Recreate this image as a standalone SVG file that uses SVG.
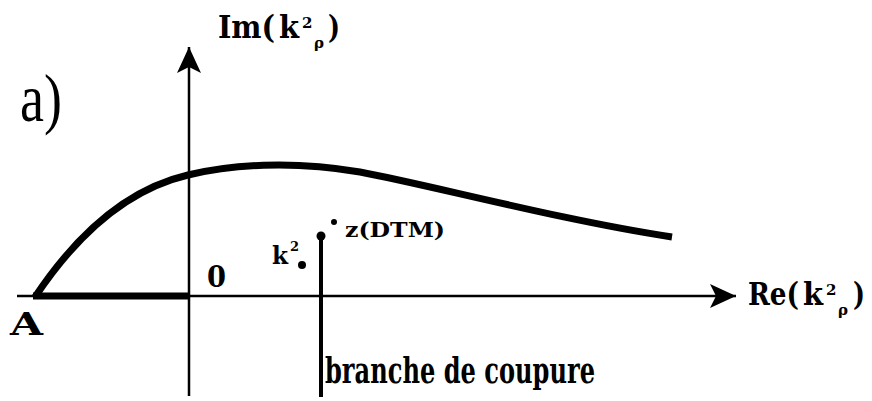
<svg xmlns="http://www.w3.org/2000/svg" width="872" height="401" viewBox="0 0 872 401">
<style>
.ax{stroke:#000;stroke-width:2.5;fill:none}
.thick{stroke:#000;stroke-width:7;fill:none;stroke-linecap:butt}
.b{font-family:"DejaVu Serif","Liberation Serif",serif;font-weight:bold;fill:#000}
.r{font-family:"Liberation Serif","Times New Roman",serif;fill:#000}
</style>
<defs>
<marker id="arr" viewBox="0 0 26 24" refX="26" refY="12" markerWidth="26" markerHeight="24" markerUnits="userSpaceOnUse" orient="auto">
<path d="M0,0 L26,12 L0,24 L6,12 Z" fill="#000"/>
</marker>
</defs>
<rect width="872" height="401" fill="#fff"/>
<g id="connectors">
<line class="ax" x1="189" y1="396" x2="189" y2="47" marker-end="url(#arr)"/>
<line class="ax" x1="17" y1="296" x2="736" y2="296" marker-end="url(#arr)"/>
<line class="thick" x1="33" y1="296" x2="189" y2="296"/>
<path class="thick" d="M35,297 C65,252 115,192 188,175 C230,165 290,160 360,172 C430,185 560,220 672,237"/>
<line x1="321" y1="235" x2="321" y2="397" stroke="#000" stroke-width="4"/>
<circle cx="321" cy="236" r="4.5" fill="#000"/>
</g>
<g id="labels">
<text class="r" x="0" y="0" font-size="54" transform="translate(20,121) scale(1,1.25)">a)</text>
<g id="im-label">
<text class="b" x="218" y="38" font-size="31" textLength="57" lengthAdjust="spacingAndGlyphs">Im(</text>
<text class="b" x="279" y="38" font-size="31" textLength="20" lengthAdjust="spacingAndGlyphs">k</text>
<text class="b" x="302" y="28" font-size="15">2</text>
<text class="b" x="314" y="48" font-size="15">ρ</text>
<text class="b" x="328" y="38" font-size="31" textLength="12" lengthAdjust="spacingAndGlyphs">)</text>
</g>
<g id="re-label">
<text class="b" x="748" y="305" font-size="31" textLength="51" lengthAdjust="spacingAndGlyphs">Re(</text>
<text class="b" x="803" y="305" font-size="31" textLength="20" lengthAdjust="spacingAndGlyphs">k</text>
<text class="b" x="826" y="295" font-size="15">2</text>
<text class="b" x="838" y="315" font-size="15">ρ</text>
<text class="b" x="853" y="305" font-size="31" textLength="12" lengthAdjust="spacingAndGlyphs">)</text>
</g>
<text class="b" x="207" y="287" font-size="30" textLength="19" lengthAdjust="spacingAndGlyphs">0</text>
<text class="b" x="10" y="335" font-size="31" textLength="33" lengthAdjust="spacingAndGlyphs">A</text>
<g id="k2">
<text class="b" x="272" y="264" font-size="25" textLength="16" lengthAdjust="spacingAndGlyphs">k</text>
<text class="b" x="290" y="251" font-size="13">2</text>
<circle cx="302" cy="265" r="4" fill="#000"/>
</g>
<g id="zdtm">
<circle cx="334" cy="222" r="3" fill="#000"/>
<text class="b" x="345" y="237" font-size="21" textLength="100" lengthAdjust="spacingAndGlyphs">z(DTM)</text>
</g>
<text class="b" x="325" y="383" font-size="35" textLength="270" lengthAdjust="spacingAndGlyphs">branche de coupure</text>
</g>
</svg>
